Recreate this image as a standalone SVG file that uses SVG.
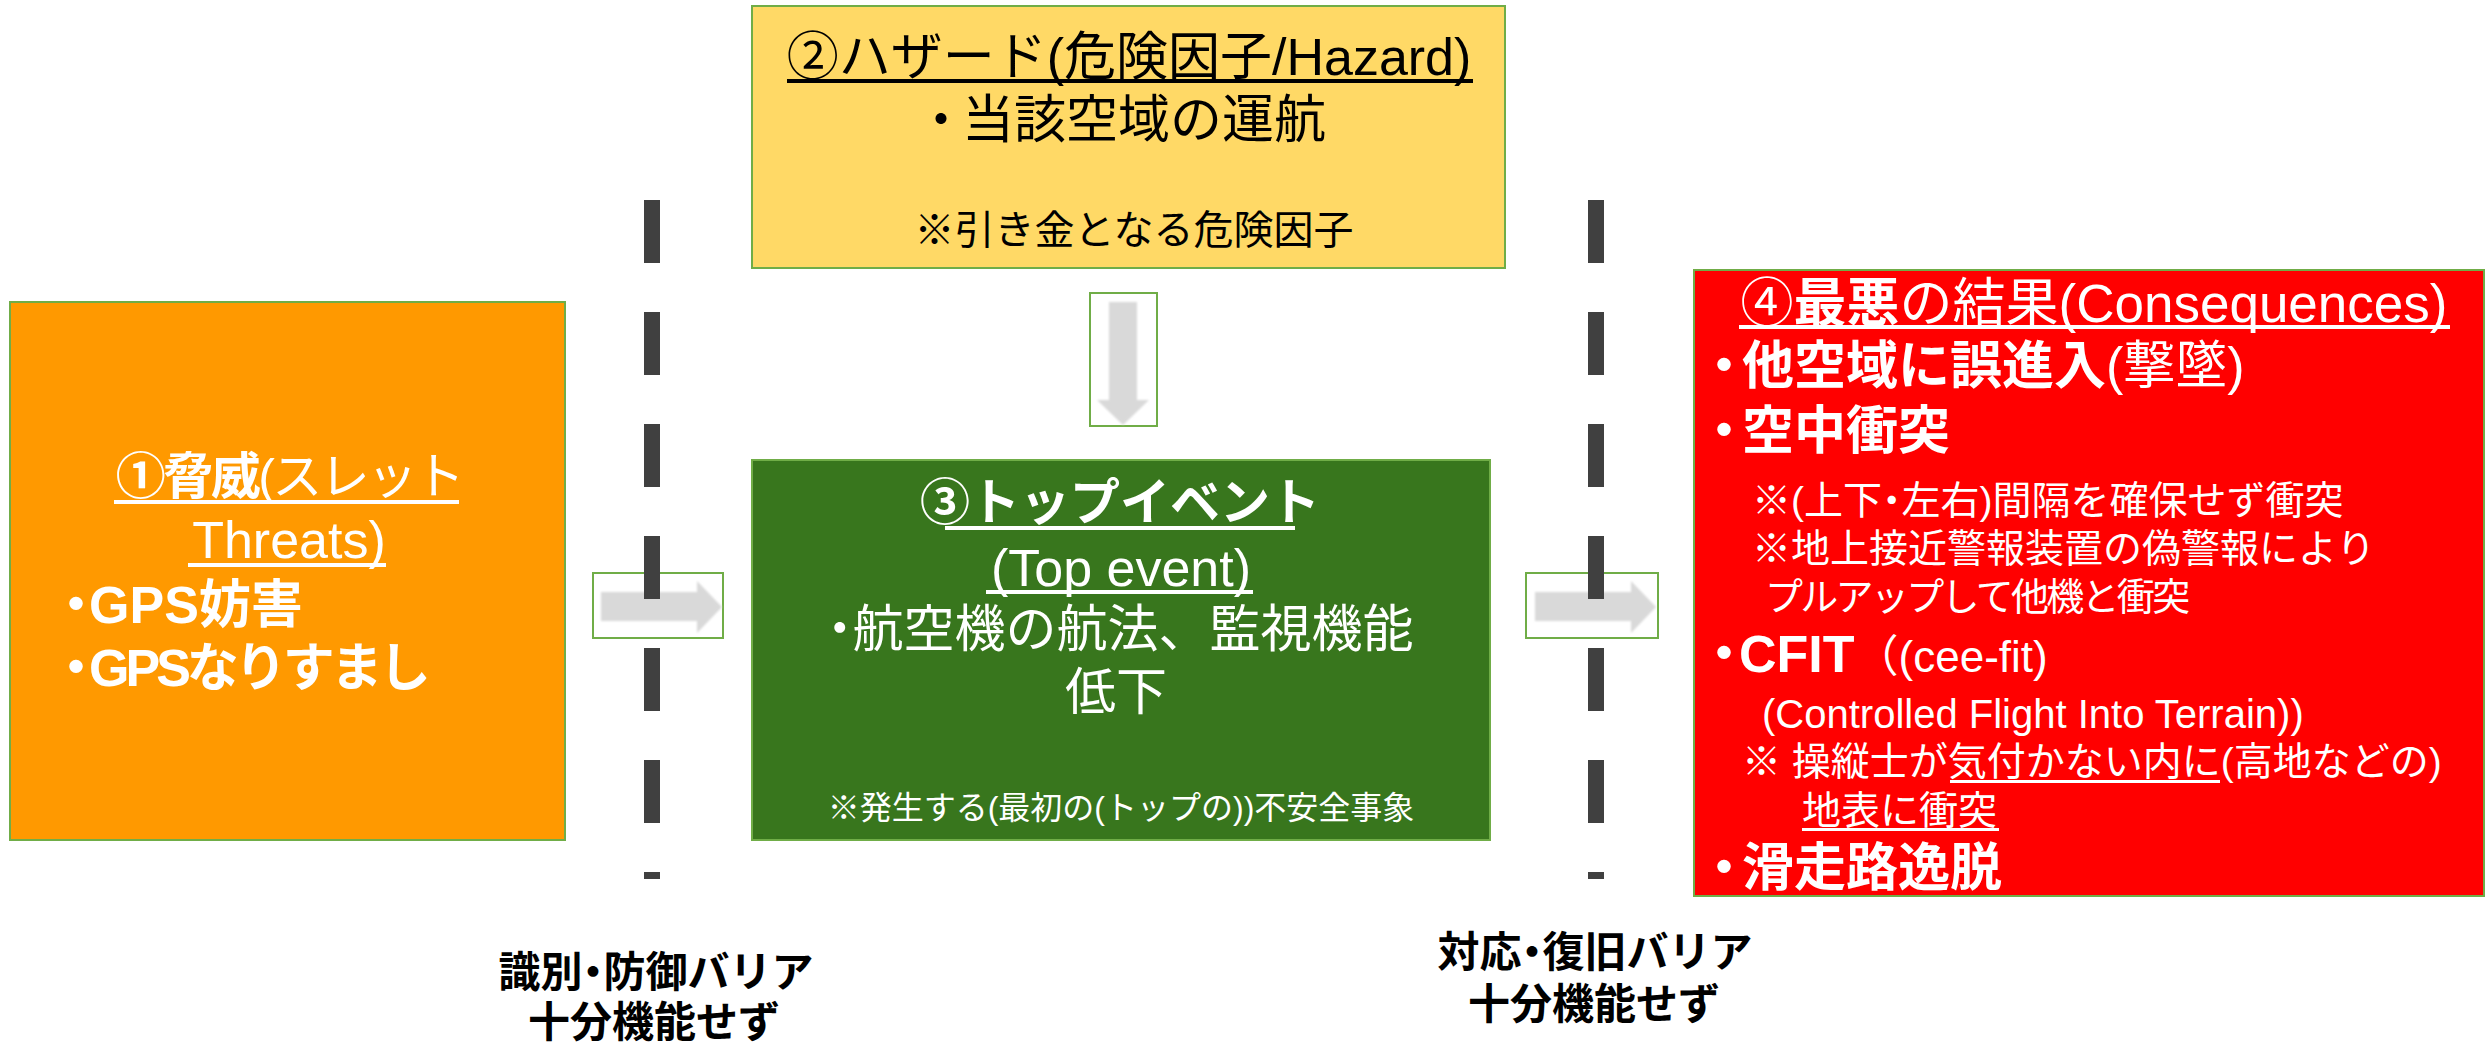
<svg xmlns="http://www.w3.org/2000/svg" width="2486" height="1045" viewBox="0 0 2486 1045">
<style>
text { font-family: "Liberation Sans", "Noto Sans CJK JP", sans-serif; }
.w { fill: #ffffff; }
.k { fill: #000000; }
.b { font-weight: bold; }
.h { font-feature-settings: "halt"; }
.box { stroke: #70AD47; stroke-width: 2; }
.abox { fill: #ffffff; stroke: #70AD47; stroke-width: 2; }
.arrow { fill: #D9D9D9; filter: url(#soft); }
.barrier { stroke: #404040; stroke-width: 16; stroke-dasharray: 63 49; fill: none; }
.ulw { fill: #ffffff; }
.ulk { fill: #000000; }
</style>
<defs>
<filter id="soft" x="-20%" y="-20%" width="140%" height="140%"><feGaussianBlur stdDeviation="1.2"/></filter>
</defs>
<rect width="2486" height="1045" fill="#ffffff"/>

<g id="node-threat">
<rect class="box" x="10" y="302" width="555" height="538" fill="#FF9900"/>
<text class="w" x="289" y="494" font-size="50" text-anchor="middle" letter-spacing="-2.5"><tspan class="b">①脅威</tspan>(スレット</text>
<rect class="ulw" x="114" y="500" width="345" height="4"/>
<text class="w" x="289" y="558" font-size="52" text-anchor="middle">Threats)</text>
<rect class="ulw" x="188" y="563" width="198" height="4"/>
<text class="w b" x="63" y="623" font-size="52"><tspan class="h">・</tspan>GPS妨害</text>
<text class="w b" x="63" y="686" font-size="52"><tspan class="h">・</tspan><tspan letter-spacing="-4">GPSなりすまし</tspan></text>
</g>

<g id="node-hazard">
<rect class="box" x="752" y="6" width="753" height="262" fill="#FFD966"/>
<text class="k" x="1129" y="75" font-size="52" text-anchor="middle">②ハザード(危険因子/Hazard)</text>
<rect class="ulk" x="787" y="79" width="686" height="4"/>
<text class="k" x="928" y="138" font-size="52"><tspan class="h">・</tspan><tspan dx="8">当該空域の運航</tspan></text>
<text class="k" x="1134" y="244" font-size="40" text-anchor="middle">※引き金となる危険因子</text>
</g>

<g id="node-top-event">
<rect class="box" x="752" y="460" width="738" height="380" fill="#38761D"/>
<text class="w b" x="1120" y="520" font-size="50" text-anchor="middle">③トップイベント</text>
<rect class="ulw" x="945" y="526" width="350" height="4"/>
<text class="w" x="1121" y="586" font-size="52" text-anchor="middle">(Top event)</text>
<rect class="ulw" x="986" y="590" width="267" height="4"/>
<text class="w" x="827" y="647" font-size="51"><tspan class="h">・</tspan>航空機の航法、監視機能</text>
<text class="w" x="1116" y="710" font-size="51" text-anchor="middle">低下</text>
<text class="w" x="1121" y="819" font-size="32" text-anchor="middle">※発生する(最初の(トップの))不安全事象</text>
</g>

<g id="node-consequences">
<rect class="box" x="1694" y="270" width="790" height="626" fill="#FF0000"/>
<text class="w" x="2094" y="322" font-size="53" text-anchor="middle">④<tspan class="b">最悪</tspan>の結果(Consequences)</text>
<rect class="ulw" x="1739" y="325" width="711" height="4"/>
<text class="w" x="1711" y="384" font-size="52"><tspan class="b h">・</tspan><tspan class="b" dx="5">他空域に誤進入</tspan>(撃墜)</text>
<text class="w b" x="1711" y="449" font-size="52"><tspan class="h">・</tspan><tspan dx="5">空中衝突</tspan></text>
<text class="w" x="1752" y="514" font-size="39">※(上下<tspan class="h">・</tspan>左右)間隔を確保せず衝突</text>
<text class="w" x="1752" y="562" font-size="39">※地上接近警報装置の偽警報により</text>
<text class="w" x="1765" y="610" font-size="38" letter-spacing="-2.7">プルアップして他機と衝突</text>
<text class="w" x="1711" y="672" font-size="44"><tspan class="b h" font-size="52">・</tspan><tspan class="b" font-size="52" dx="2">CFIT</tspan>（(cee-fit)</text>
<text class="w" x="1762" y="728" font-size="40">(Controlled Flight Into Terrain))</text>
<text class="w" x="1742" y="775" font-size="39">※ 操縦士が気付かない内に(高地などの)</text>
<rect class="ulw" x="1950" y="780" width="270" height="3"/>
<text class="w" x="1802" y="824" font-size="39">地表に衝突</text>
<rect class="ulw" x="1802" y="828" width="197" height="3"/>
<text class="w b" x="1711" y="886" font-size="52"><tspan class="h">・</tspan><tspan dx="5">滑走路逸脱</tspan></text>
</g>

<g id="connectors">
<g id="arrow-hazard-top">
<rect class="abox" x="1090" y="293" width="67" height="133"/>
<polygon class="arrow" points="1109,302 1137,302 1137,400 1149,400 1123,425 1097,400 1109,400"/>
</g>
<g id="arrow-threat-top">
<rect class="abox" x="593" y="573" width="130" height="65"/>
<polygon class="arrow" points="601,592 697,592 697,581 722,607 697,633 697,621 601,621"/>
</g>
<g id="arrow-top-consequences">
<rect class="abox" x="1526" y="573" width="132" height="65"/>
<polygon class="arrow" points="1535,592 1631,592 1631,581 1656,607 1631,633 1631,621 1535,621"/>
</g>
</g>

<g id="barriers">
<line class="barrier" x1="652" y1="200" x2="652" y2="879"/>
<line class="barrier" x1="1596" y1="200" x2="1596" y2="879"/>
</g>

<g id="barrier-labels">
<text class="k b" x="656" y="987" font-size="42" text-anchor="middle">識別<tspan class="h">・</tspan>防御バリア</text>
<text class="k b" x="654" y="1037" font-size="42" text-anchor="middle">十分機能せず</text>
<text class="k b" x="1595" y="967" font-size="42" text-anchor="middle">対応<tspan class="h">・</tspan>復旧バリア</text>
<text class="k b" x="1594" y="1019" font-size="42" text-anchor="middle">十分機能せず</text>
</g>
</svg>
